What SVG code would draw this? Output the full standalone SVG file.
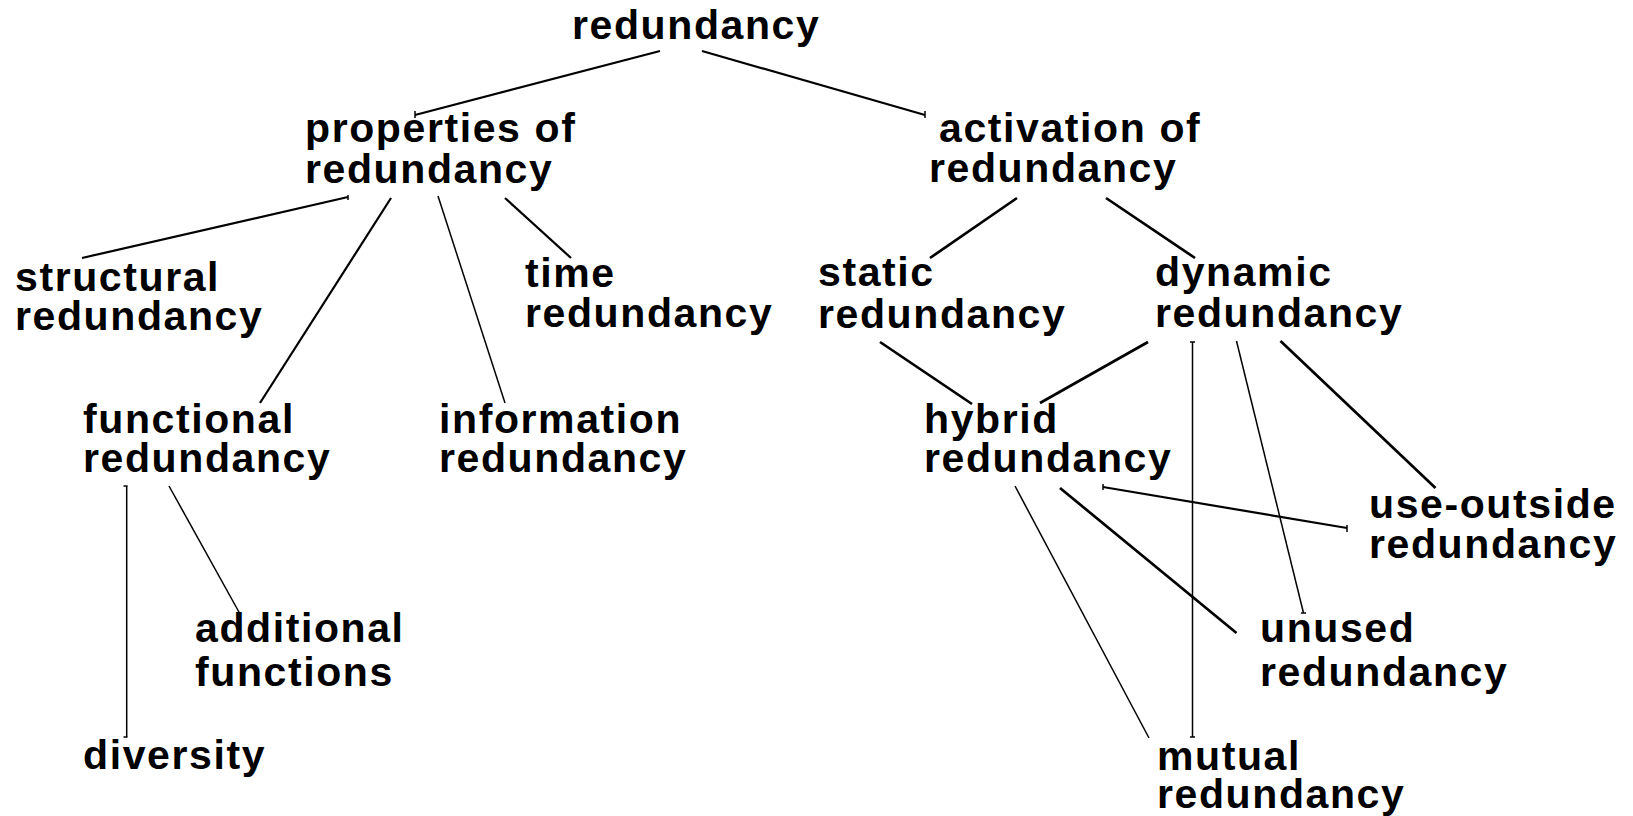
<svg xmlns="http://www.w3.org/2000/svg" width="1633" height="816" viewBox="0 0 1633 816">
<style>
text{font-family:"Liberation Sans",Arial,Helvetica,sans-serif;font-weight:bold;font-size:41px;letter-spacing:1.6px;fill:#000}
.c line{stroke:#000;stroke-linecap:butt}
.n{stroke-width:2.2}
.t{stroke-width:2.7}
.f{stroke-width:1.5}
.k{stroke-width:1.5}
</style>
<rect width="1633" height="816" fill="#fff"/>
<g id="connectors" class="c">
<line class="n" x1="660" y1="51" x2="415" y2="115"/>
<line class="n" x1="702" y1="51" x2="925" y2="115"/>
<line class="n" x1="348" y1="197" x2="82" y2="258"/>
<line class="n" x1="391" y1="198" x2="260" y2="403"/>
<line class="f" x1="438" y1="196" x2="505" y2="403"/>
<line class="n" x1="505" y1="198" x2="571" y2="258"/>
<line class="t" x1="1017" y1="198" x2="930" y2="258"/>
<line class="t" x1="1106" y1="198" x2="1195" y2="258"/>
<line class="t" x1="880" y1="342" x2="972" y2="404"/>
<line class="t" x1="1148" y1="342" x2="1040" y2="403"/>
<line class="f" x1="1192.5" y1="342" x2="1192.5" y2="737"/>
<line class="f" x1="1236.5" y1="341" x2="1303.5" y2="613"/>
<line class="t" x1="1280.5" y1="341" x2="1435.5" y2="488"/>
<line class="n" x1="1103" y1="487" x2="1347" y2="528"/>
<line class="t" x1="1060" y1="488" x2="1236.5" y2="633"/>
<line class="f" x1="1015" y1="486" x2="1149" y2="738"/>
<line class="f" x1="126.7" y1="486" x2="126.7" y2="737"/>
<line class="f" x1="169" y1="486" x2="239.5" y2="613"/>
<line class="k" x1="415" y1="111" x2="415" y2="118"/>
<line class="k" x1="925" y1="111" x2="925" y2="118"/>
<line class="k" x1="348" y1="195" x2="348" y2="200"/>
<line class="k" x1="123.5" y1="486" x2="127.5" y2="486"/>
<line class="k" x1="123.5" y1="737" x2="127.5" y2="737"/>
<line class="k" x1="1190" y1="342" x2="1195" y2="342"/>
<line class="k" x1="1190" y1="737" x2="1195" y2="737"/>
<line class="k" x1="1103" y1="484" x2="1103" y2="490"/>
<line class="k" x1="1347" y1="525" x2="1347" y2="532"/>
<line class="k" x1="1301" y1="613" x2="1306" y2="613"/>
</g>
<g id="n-redundancy"><text x="572" y="39">redundancy</text></g>
<g id="n-properties"><text x="305" y="142">properties of</text><text x="305" y="183">redundancy</text></g>
<g id="n-activation"><text x="939" y="142">activation of</text><text x="929" y="182">redundancy</text></g>
<g id="n-structural"><text x="15" y="291">structural</text><text x="15" y="330">redundancy</text></g>
<g id="n-time"><text x="525" y="287">time</text><text x="525" y="327">redundancy</text></g>
<g id="n-static"><text x="818" y="286">static</text><text x="818" y="328">redundancy</text></g>
<g id="n-dynamic"><text x="1155" y="286">dynamic</text><text x="1155" y="327">redundancy</text></g>
<g id="n-functional"><text x="83" y="433">functional</text><text x="83" y="472">redundancy</text></g>
<g id="n-information"><text x="439" y="433">information</text><text x="439" y="472">redundancy</text></g>
<g id="n-hybrid"><text x="924" y="433">hybrid</text><text x="924" y="472">redundancy</text></g>
<g id="n-use-outside"><text x="1369" y="518">use-outside</text><text x="1369" y="558">redundancy</text></g>
<g id="n-additional"><text x="195" y="642">additional</text><text x="195" y="686">functions</text></g>
<g id="n-unused"><text x="1260" y="642">unused</text><text x="1260" y="686">redundancy</text></g>
<g id="n-diversity"><text x="83" y="769">diversity</text></g>
<g id="n-mutual"><text x="1157" y="770">mutual</text><text x="1157" y="808">redundancy</text></g>
</svg>
